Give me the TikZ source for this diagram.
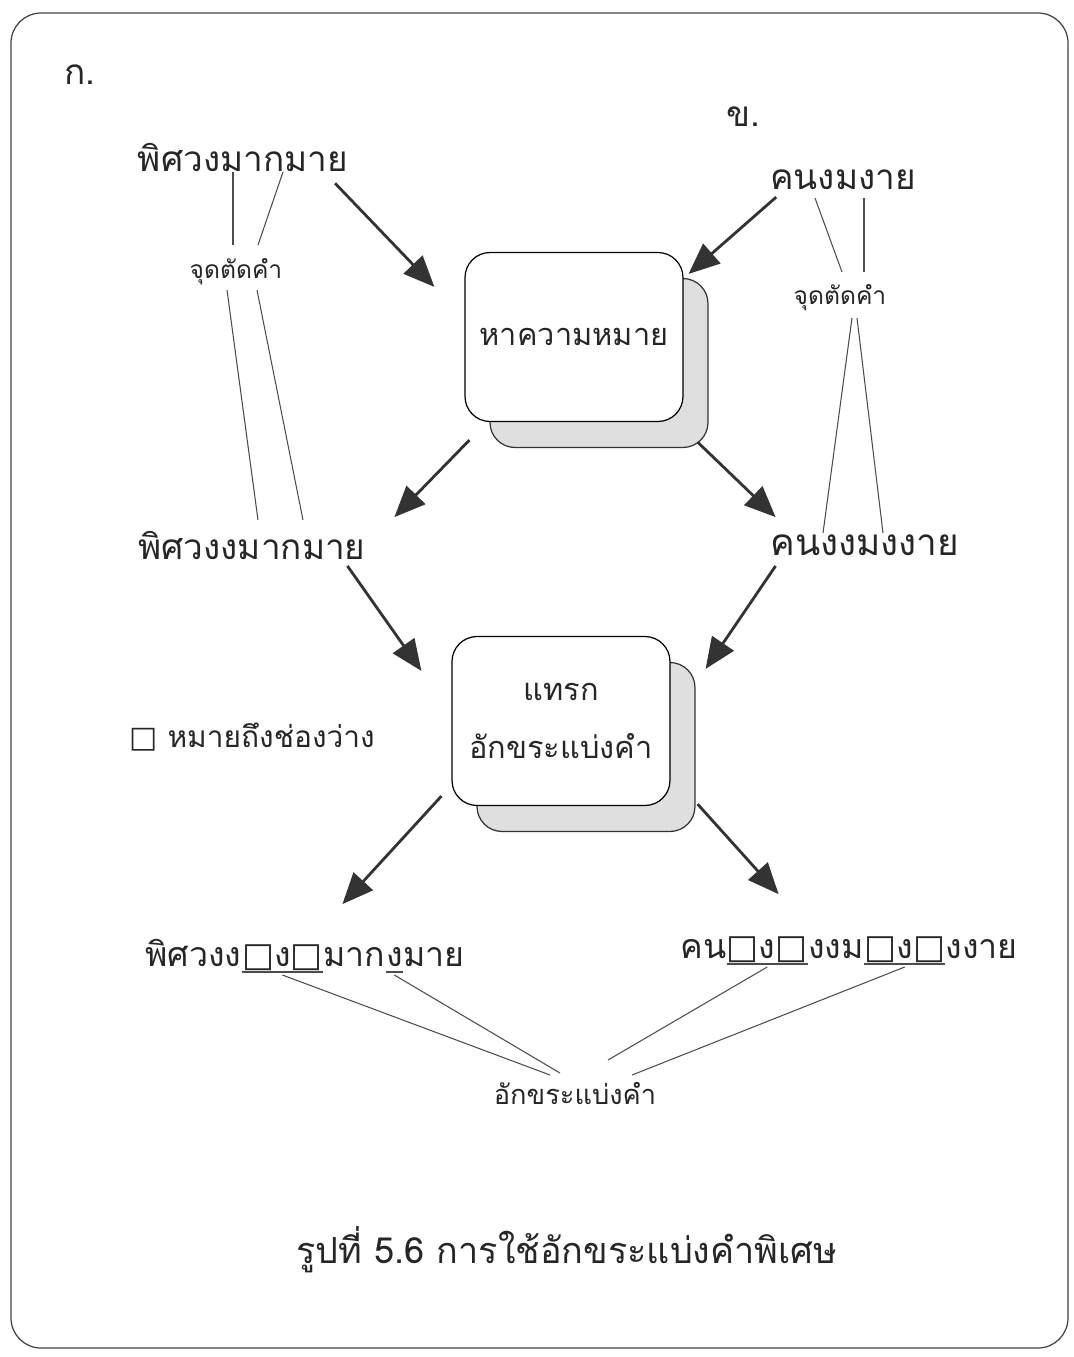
\documentclass[tikz,border=0pt]{standalone}
\usepackage{fontspec}
\newfontfamily\thaifont[Script=Thai]{Loma}
\newfontfamily\symfont{DejaVu Sans}
\usetikzlibrary{arrows.meta,calc,shadows}
\newcommand\bx{{\symfont □}}
\newcommand\tsize[1]{\fontsize{#1}{#1}\selectfont}
\begin{document}
\begin{tikzpicture}[x=0.02cm,y=-0.02cm,
  txt/.style={font=\thaifont\tsize{20}, inner sep=1pt, text=black!85},
  captxt/.style={font=\thaifont\tsize{20.5}, inner sep=1pt, text=black!85},
  small/.style={font=\thaifont\tsize{14}, inner sep=1pt, text=black!85},
  part/.style={font=\thaifont\tsize{19.3}, text=black!85, inner sep=0pt, anchor=base west},
  thinline/.style={draw=black!70, line width=0.6pt},
  uline/.style={draw=black!70, line width=1.2pt},
  bigarrow/.style={draw=black!80, line width=1.6pt, -{Triangle[length=0.62cm,width=0.52cm]}},
  proc/.style={font=\thaifont\tsize{17.5}, text=black!85, draw=black, line width=0.7pt, fill=white, rounded corners=0.5cm,
    minimum width=4.36cm, minimum height=3.38cm, align=center,
    copy shadow={shadow xshift=0.5cm, shadow yshift=-0.52cm, fill=gray!25, draw=black!80}}
]
\useasboundingbox (0,0) rectangle (1074,1357);
\draw[draw=black!75, line width=0.7pt, rounded corners=0.6cm] (11,13) rectangle (1068,1348);

% labels
\node[txt] (k1) at (80,75) {ก.};
\node[txt] (k2) at (743,117) {ข.};

% row 1
\node[txt] (r1L) at (243,157) {พิศวงมากมาย};
\node[txt] (r1R) at (843,180) {คนงมงาย};
\node[small] (cutL) at (236,272) {จุดตัดคำ};
\node[small] (cutR) at (840,298) {จุดตัดคำ};

% boxes
\node[proc] (box1) at (574,337) {\raisebox{-8pt}{หาความหมาย}};
\node[proc] (box2) at (561,721) {\raisebox{4pt}{แทรก}\\[12pt]อักขระแบ่งคำ};

% row 2
\node[txt] (r2L) at (252,545) {พิศวงงมากมาย};
\node[txt, font=\thaifont\tsize{21}] (r2R) at (865,545) {คนงงมงงาย};

% legend
\node[txt, font=\thaifont\tsize{17}] (leg) at (252,737) {\bx\ หมายถึงช่องว่าง};

% row 3 left
\node[part] (l1) at (145,966) {พิศวงง};
\node[part] (l2) at (l1.base east) {\bx ง\bx};
\node[part] (l3) at (l2.base east) {มาก};
\node[part] (l4) at (l3.base east) {ง};
\node[part] (l5) at (l4.base east) {มาย};
% row 3 right
\node[part] (m1) at (680,958) {คน};
\node[part] (m2) at (m1.base east) {\bx ง\bx};
\node[part] (m3) at (m2.base east) {งงม};
\node[part] (m4) at (m3.base east) {\bx ง\bx};
\node[part] (m5) at (m4.base east) {งงาย};

\node[txt, font=\thaifont\tsize{15.5}] (sep) at (575,1093) {อักขระแบ่งคำ};
\node[captxt] (caption) at (567,1250) {รูปที่ 5.6 การใช้อักขระแบ่งคำพิเศษ};

% thin lines left
\draw[thinline] ($(r1L)+(-10,15)$) -- ($(cutL)+(-3,-27)$);
\draw[thinline] ($(r1L)+(40,15)$) -- ($(cutL)+(22,-27)$);
\draw[thinline] ($(cutL)+(-9,18)$) -- ($(r2L)+(6,-25)$);
\draw[thinline] ($(cutL)+(21,18)$) -- ($(r2L)+(51,-25)$);
% thin lines right
\draw[thinline] ($(r1R)+(-28,18)$) -- ($(cutR)+(2,-26)$);
\draw[thinline] ($(r1R)+(21,18)$) -- ($(cutR)+(24,-26)$);
\draw[thinline] ($(cutR)+(12,20)$) -- ($(r2R)+(-42,-12)$);
\draw[thinline] ($(cutR)+(17,20)$) -- ($(r2R)+(18,-12)$);

% big arrows
\draw[bigarrow] ($(r1L.south east)+(-15,10)$) -- ($(box1.north west)+(-30,35)$);
\draw[bigarrow] ($(r1R.south west)+(8,5)$) -- ($(box1.north east)+(5,22)$);
\draw[bigarrow] ($(box1.south west)+(5,18)$) -- ($(box1.south west)+(-70,95)$);
\draw[bigarrow] ($(box1.south east)+(14,20)$) -- ($(box1.south east)+(92,95)$);
\draw[bigarrow] ($(box2.north west)+(-104,-70)$) -- ($(box2.north west)+(-30,35)$);
\draw[bigarrow] ($(box2.north east)+(105,-70)$) -- ($(box2.north east)+(35,33)$);
\draw[bigarrow] ($(box2.south west)+(-10,-10)$) -- ($(box2.south west)+(-109,98)$);
\draw[bigarrow] ($(box2.south east)+(27,-2)$) -- ($(box2.south east)+(108,88)$);

% underlines
\draw[uline] ($(l2.base west)+(0,6)$) -- ($(l2.base east)+(0,6)$);
\draw[uline] ($(l4.base west)+(0,6)$) -- ($(l4.base east)+(0,6)$);
\draw[uline] ($(m2.base west)+(0,6)$) -- ($(m2.base east)+(0,6)$);
\draw[uline] ($(m4.base west)+(0,6)$) -- ($(m4.base east)+(0,6)$);

% connectors to separator label
\draw[thinline] ($(l2.base)+(0,9)$) -- ($(sep)+(-25,-18)$);
\draw[thinline] ($(l4.base)+(0,9)$) -- ($(sep)+(-15,-20)$);
\draw[thinline] ($(m2.base)+(0,9)$) -- ($(sep)+(33,-33)$);
\draw[thinline] ($(m4.base)+(0,9)$) -- ($(sep)+(57,-18)$);
\end{tikzpicture}
\end{document}
